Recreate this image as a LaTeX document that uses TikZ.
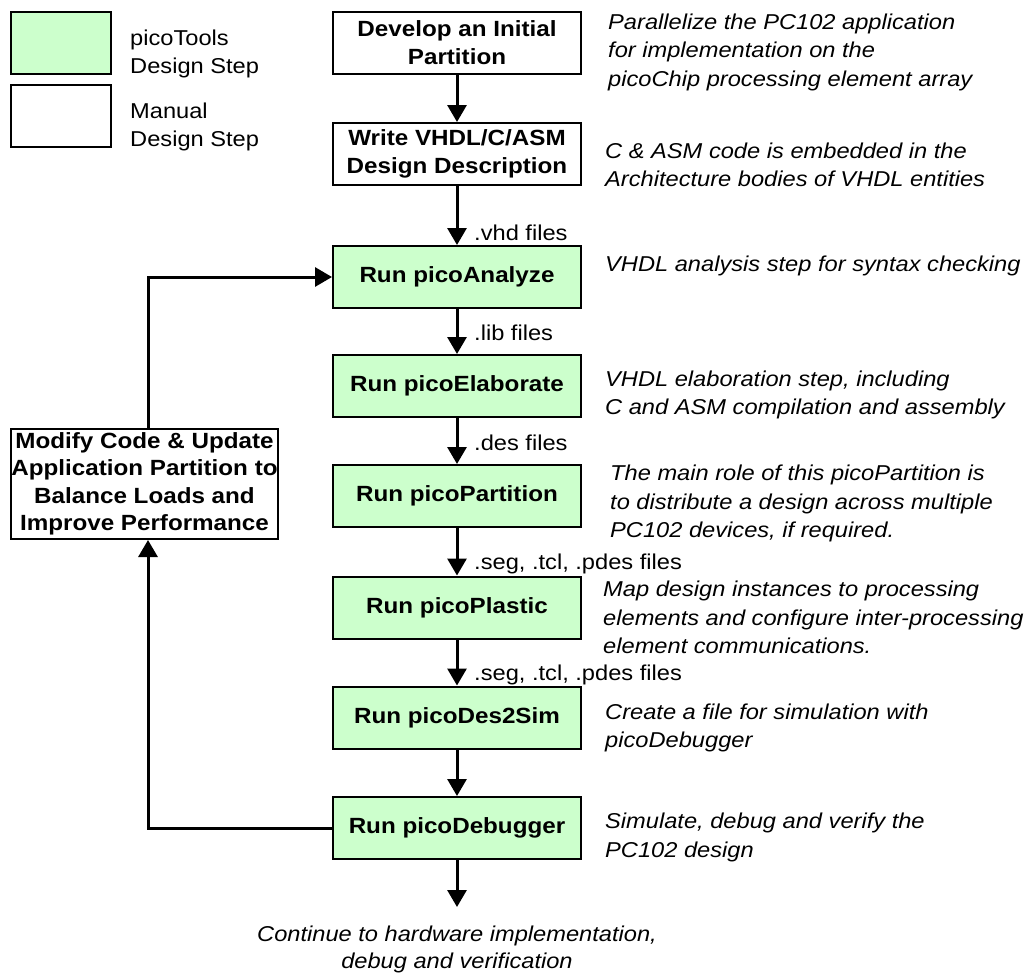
\documentclass[tikz,border=0pt]{standalone}
\usepackage{fontspec}
\setmainfont{Liberation Sans}[FakeStretch=1.1]
\usetikzlibrary{arrows.meta}
\definecolor{toolgreen}{HTML}{CCFFCC}
\begin{document}
\begin{tikzpicture}[x=1pt,y=-1pt,
  stepbox/.style={draw, line width=2pt, minimum width=248pt, minimum height=62pt, inner sep=0pt, align=center, font=\fontsize{22}{27.5}\selectfont\bfseries},
  toolbox/.style={stepbox, fill=toolgreen},
  manbox/.style={stepbox, fill=white},
  tip/.style={-{Triangle[length=17pt,width=19pt]}},
  flow/.style={line width=3pt, tip},
  fline/.style={line width=3pt},
  filelbl/.style={anchor=west, inner sep=0pt, font=\fontsize{21.5}{27}\selectfont},
  desc/.style={anchor=west, inner sep=0pt, align=left, font=\fontsize{21.5}{28.5}\selectfont\itshape},
  legtxt/.style={anchor=west, inner sep=0pt, align=left, font=\fontsize{21.5}{28}\selectfont}
]
\useasboundingbox (0,0) rectangle (1031,975);

% legend
\node[draw, line width=2pt, fill=toolgreen, minimum width=100pt, minimum height=62pt, inner sep=0pt] (lg) at (61,43) {};
\node[draw, line width=2pt, fill=white, minimum width=100pt, minimum height=62pt, inner sep=0pt] (lm) at (61,116) {};
\node[legtxt] (lgt) at (130,54) {picoTools\\Design Step};
\node[legtxt] (lmt) at (130,127) {Manual\\Design Step};

% main steps
\node[manbox] (dev) at (457,42.5) {Develop an Initial\\Partition};
\node[manbox] (wri) at (457,154) {Write VHDL/C/ASM\\Design Description};
\node[toolbox] (ana) at (457,277) {Run picoAnalyze};
\node[toolbox] (ela) at (457,386) {Run picoElaborate};
\node[toolbox] (par) at (457,496) {Run picoPartition};
\node[toolbox] (pla) at (457,607.5) {Run picoPlastic};
\node[toolbox] (des) at (457,717.5) {Run picoDes2Sim};
\node[toolbox] (dbg) at (457,828) {Run picoDebugger};

% feedback box
\node[stepbox, fill=white, minimum width=267pt, minimum height=110pt] (mod) at (144.5,484)
  {Modify Code \& Update\\Application Partition to\\Balance Loads and\\Improve Performance};

% end text
\node[inner sep=0pt, align=center, font=\fontsize{21.5}{27}\selectfont\itshape] (end) at (457,949)
  {Continue to hardware implementation,\\debug and verification};
\coordinate (endtip) at (457,907);

% arrows
\draw[flow] (dev) -- (wri);
\draw[flow] (wri) -- (ana);
\draw[flow] (ana) -- (ela);
\draw[flow] (ela) -- (par);
\draw[flow] (par) -- (pla);
\draw[flow] (pla) -- (des);
\draw[flow] (des) -- (dbg);
\draw[flow] (dbg) -- (endtip);

% feedback loop
\coordinate (fb1) at (148,828);
\coordinate (fb2) at (148,277);
\draw[fline, tip] (dbg.west) -- (fb1) -- (fb1 |- mod.south);
\draw[fline, tip] (fb2 |- mod.north) -- (fb2) -- (ana.west);

% file labels
\node[filelbl] (l1) at (474,233) {.vhd files};
\node[filelbl] (l2) at (474,333) {.lib files};
\node[filelbl] (l3) at (474,443) {.des files};
\node[filelbl] (l4) at (474,564) {.seg, .tcl, .pdes files};
\node[filelbl] (l5) at (474,675) {.seg, .tcl, .pdes files};

% descriptions
\node[desc] (d1) at (608,52) {Parallelize the PC102 application\\for implementation on the\\picoChip processing element array};
\node[desc] (d2) at (605,165) {C \& ASM code is embedded in the\\Architecture bodies of VHDL entities};
\node[desc] (d3) at (605,266) {VHDL analysis step for syntax checking};
\node[desc] (d4) at (605,395) {VHDL elaboration step, including\\C and ASM compilation and assembly};
\node[desc] (d5) at (610,503.5) {The main role of this picoPartition is\\to distribute a design across multiple\\PC102 devices, if required.};
\node[desc] (d6) at (603,617.5) {Map design instances to processing\\elements and configure inter-processing\\element communications.};
\node[desc] (d7) at (605,728) {Create a file for simulation with\\picoDebugger};
\node[desc] (d8) at (605,837.5) {Simulate, debug and verify the\\PC102 design};
\end{tikzpicture}
\end{document}
